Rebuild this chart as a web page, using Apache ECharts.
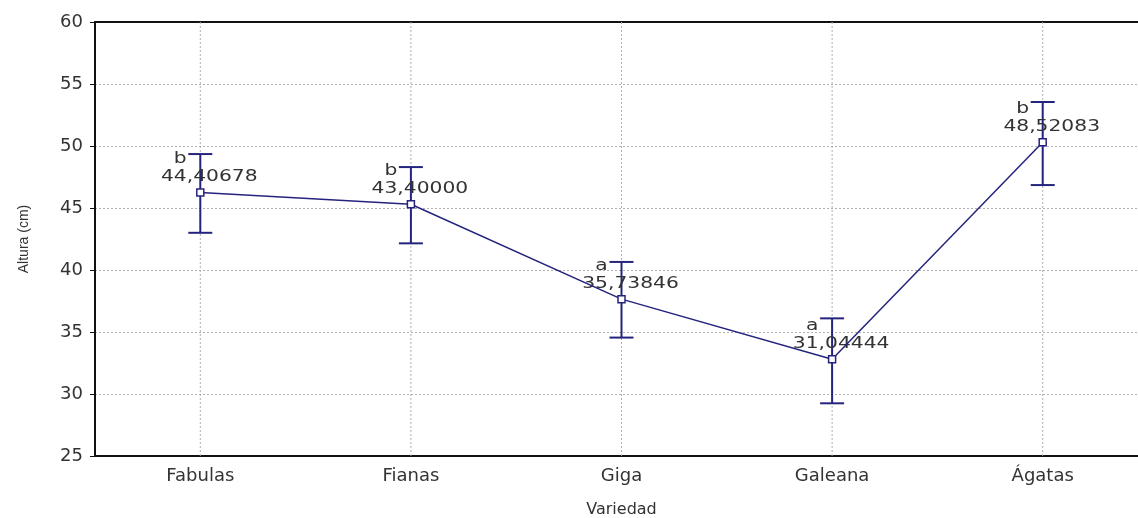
<!DOCTYPE html>
<html>
<head>
<meta charset="utf-8">
<script src="https://cdn.jsdelivr.net/npm/echarts@6/dist/echarts.min.js"></script>
<style>
  html, body { margin: 0; padding: 0; background: #fff; }
  #chart { width: 1138px; height: 518px; }
</style>
</head>
<body>
<div id="chart"></div>
<script>
const categories = ['Fabulas', 'Fianas', 'Giga', 'Galeana', 'Ágatas']
const means = [46.25, 45.3, 37.65, 32.8, 50.3]
const errLow = [43.0, 42.15, 34.55, 29.25, 46.85]
const errHigh = [49.35, 48.3, 40.65, 36.1, 53.55]
const groupLetters = ['b', 'b', 'a', 'a', 'b']
const meanLabels = ['44,40678', '43,40000', '35,73846', '31,04444', '48,52083']
const yTicks = [25, 30, 35, 40, 45, 50, 55, 60]

const navy = '#24247e'
const textColor = '#333'
const yMin = yTicks[0]
const yMax = yTicks[yTicks.length - 1]

const chart = echarts.init(document.getElementById('chart'))

// error bars + letters + value labels
function renderBars (params, api) {
  const x = api.value(0)
  const lo = api.coord([x, api.value(1)])
  const hi = api.coord([x, api.value(2)])
  const pt = api.coord([x, api.value(3)])
  const i = params.dataIndex
  const cap = 12
  const barStyle = { stroke: navy, lineWidth: 2 }
  return {
    type: 'group',
    children: [
      { type: 'line', shape: { x1: lo[0], y1: lo[1], x2: hi[0], y2: hi[1] }, style: barStyle },
      { type: 'line', shape: { x1: hi[0] - cap, y1: hi[1], x2: hi[0] + cap, y2: hi[1] }, style: barStyle },
      { type: 'line', shape: { x1: lo[0] - cap, y1: lo[1], x2: lo[0] + cap, y2: lo[1] }, style: barStyle },
      {
        type: 'text', x: pt[0] + 9, y: pt[1] - 15, scaleX: 1.35,
        style: { text: meanLabels[i], fill: textColor, font: '15px "DejaVu Sans"', align: 'center', verticalAlign: 'middle' }
      },
      {
        type: 'text', x: pt[0] - 20, y: pt[1] - 33, scaleX: 1.35,
        style: { text: groupLetters[i], fill: textColor, font: '15px "DejaVu Sans"', align: 'center', verticalAlign: 'middle' }
      }
    ]
  }
}

// dotted vertical grid lines at category centres
function renderVGrid (params, api) {
  const x = api.value(0)
  const a = api.coord([x, yMax])
  const b = api.coord([x, yMin])
  return {
    type: 'line',
    shape: { x1: a[0], y1: a[1], x2: b[0], y2: b[1] },
    style: { stroke: '#b0b0b0', lineWidth: 1, lineDash: [2, 2] }
  }
}

const opts = {
  backgroundColor: '#fff',
  animation: false,
  grid: {
    left: 95, top: 22, width: 1053, height: 434,
    outerBoundsMode: 'none',
    show: false
  },
  xAxis: [
    {
      type: 'category',
      data: categories,
      boundaryGap: true,
      name: 'Variedad',
      nameLocation: 'middle',
      nameGap: 46,
      nameTextStyle: { fontFamily: 'DejaVu Sans', fontSize: 16, color: textColor },
      axisLine: { lineStyle: { color: '#111', width: 2 } },
      axisTick: { alignWithLabel: true, inside: true, length: 4, lineStyle: { color: '#111', width: 2 } },
      axisLabel: { fontFamily: 'DejaVu Sans', fontSize: 18, color: textColor, margin: 11 },
      splitLine: { show: false }
    },
    {
      type: 'category',
      data: categories,
      position: 'top',
      boundaryGap: true,
      axisLine: { lineStyle: { color: '#111', width: 2 } },
      axisTick: { alignWithLabel: true, inside: true, length: 4, lineStyle: { color: '#111', width: 2 } },
      axisLabel: { show: false },
      splitLine: { show: false }
    }
  ],
  yAxis: {
    type: 'value',
    min: yMin,
    max: yMax,
    interval: 5,
    name: 'Altura (cm)',
    nameLocation: 'middle',
    nameGap: 64,
    nameTextStyle: { fontFamily: 'Liberation Sans', fontSize: 14, color: textColor },
    axisLine: { show: true, lineStyle: { color: '#111', width: 2 } },
    axisTick: { show: true, length: 5, lineStyle: { color: '#111' } },
    axisLabel: { fontFamily: 'DejaVu Sans', fontSize: 18, color: textColor, margin: 12 },
    splitLine: { lineStyle: { color: '#b0b0b0', type: [2, 2], width: 1 } }
  },
  series: [
    {
      type: 'custom',
      renderItem: renderVGrid,
      data: categories.map((c, i) => [i]),
      encode: { x: 0 },
      silent: true,
      z: 1
    },
    {
      type: 'custom',
      renderItem: renderBars,
      data: categories.map((c, i) => [i, errLow[i], errHigh[i], means[i]]),
      encode: { x: 0, y: [1, 2] },
      z: 3
    },
    {
      type: 'line',
      data: means,
      symbol: 'rect',
      symbolSize: 7,
      showAllSymbol: true,
      lineStyle: { color: navy, width: 1.5 },
      itemStyle: { color: '#fff', borderColor: navy, borderWidth: 1.5 },
      z: 4
    }
  ]
}

chart.setOption(opts)
</script>
</body>
</html>
